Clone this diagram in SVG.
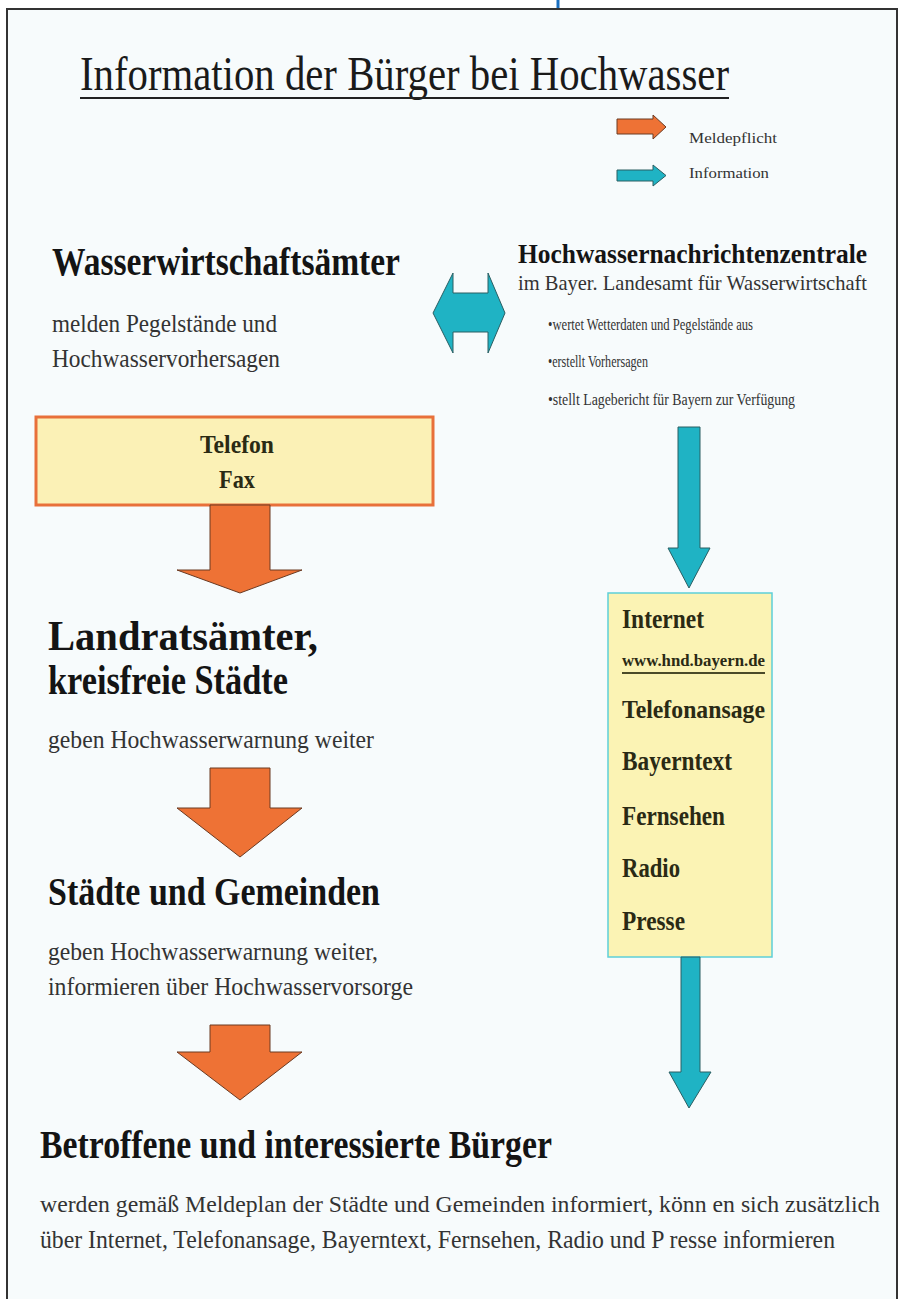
<svg xmlns="http://www.w3.org/2000/svg" width="901" height="1299" viewBox="0 0 901 1299">
<style>
.h{font-family:"Liberation Serif","Times New Roman",serif;font-weight:bold;fill:#141414}
.t{font-family:"Liberation Serif","Times New Roman",serif;fill:#333}
.b{font-family:"Liberation Serif","Times New Roman",serif;font-weight:bold;fill:#2a2a14}
.or{fill:#EE7235;stroke:#6a3a22;stroke-width:1}
.tl{fill:#1FB3C4;stroke:#2a5e62;stroke-width:1}
</style>
<rect x="0" y="0" width="901" height="1299" fill="#ffffff"/>
<line x1="558" y1="0" x2="558" y2="9" stroke="#1a6fc0" stroke-width="3"/>
<rect x="7" y="9" width="890" height="1300" fill="#F7FBFC" stroke="#333" stroke-width="2"/>

<g id="title">
<text class="t" x="80" y="90" font-size="48" textLength="649" lengthAdjust="spacingAndGlyphs" style="fill:#1a1a1a">Information der Bürger bei Hochwasser</text>
<line x1="80" y1="98" x2="729" y2="98" stroke="#222" stroke-width="2"/>
</g>

<g id="legend">
<path class="or" d="M617,119 H653 V115 L666,127 L653,139 V134 H617 Z"/>
<text class="t" x="689" y="143" font-size="15" textLength="88" lengthAdjust="spacingAndGlyphs">Meldepflicht</text>
<path class="tl" d="M617,170 H653 V165 L666,175.5 L653,186 V181 H617 Z"/>
<text class="t" x="689" y="178" font-size="15" textLength="80" lengthAdjust="spacingAndGlyphs">Information</text>
</g>

<g id="wasserwirtschaftsaemter">
<text class="h" x="52" y="275" font-size="40" textLength="348" lengthAdjust="spacingAndGlyphs">Wasserwirtschaftsämter</text>
<text class="t" x="52" y="332" font-size="26" textLength="225" lengthAdjust="spacingAndGlyphs">melden Pegelstände und</text>
<text class="t" x="52" y="367" font-size="26" textLength="228" lengthAdjust="spacingAndGlyphs">Hochwasservorhersagen</text>
</g>

<g id="hnz">
<text class="h" x="518" y="263" font-size="27" textLength="349" lengthAdjust="spacingAndGlyphs">Hochwassernachrichtenzentrale</text>
<text class="t" x="518" y="290" font-size="21" textLength="349" lengthAdjust="spacingAndGlyphs">im Bayer. Landesamt für Wasserwirtschaft</text>
<text class="t" x="548" y="330" font-size="16" textLength="205" lengthAdjust="spacingAndGlyphs">•wertet Wetterdaten und Pegelstände aus</text>
<text class="t" x="548" y="367" font-size="16" textLength="100" lengthAdjust="spacingAndGlyphs">•erstellt Vorhersagen</text>
<text class="t" x="548" y="405" font-size="16" textLength="247" lengthAdjust="spacingAndGlyphs">•stellt Lagebericht für Bayern zur Verfügung</text>
</g>

<g id="telefon">
<rect x="36" y="417" width="397" height="88" fill="#FBF1B6" stroke="#E8703A" stroke-width="3"/>
<text class="b" x="237" y="453" font-size="26" text-anchor="middle" textLength="74" lengthAdjust="spacingAndGlyphs">Telefon</text>
<text class="b" x="237" y="488" font-size="26" text-anchor="middle" textLength="36" lengthAdjust="spacingAndGlyphs">Fax</text>
</g>

<g id="landratsaemter">
<text class="h" x="48" y="650" font-size="42" textLength="270" lengthAdjust="spacingAndGlyphs">Landratsämter,</text>
<text class="h" x="48" y="694" font-size="42" textLength="240" lengthAdjust="spacingAndGlyphs">kreisfreie Städte</text>
<text class="t" x="48" y="748" font-size="26" textLength="326" lengthAdjust="spacingAndGlyphs">geben Hochwasserwarnung weiter</text>
</g>

<g id="staedte">
<text class="h" x="48" y="905" font-size="40" textLength="332" lengthAdjust="spacingAndGlyphs">Städte und Gemeinden</text>
<text class="t" x="48" y="960" font-size="26" textLength="330" lengthAdjust="spacingAndGlyphs">geben Hochwasserwarnung weiter,</text>
<text class="t" x="48" y="995" font-size="26" textLength="365" lengthAdjust="spacingAndGlyphs">informieren über Hochwasservorsorge</text>
</g>

<g id="buerger">
<text class="h" x="40" y="1158" font-size="40" textLength="512" lengthAdjust="spacingAndGlyphs">Betroffene und interessierte Bürger</text>
<text class="t" x="40" y="1212" font-size="24" textLength="840" lengthAdjust="spacingAndGlyphs">werden gemäß Meldeplan der Städte und Gemeinden informiert, könn en sich zusätzlich</text>
<text class="t" x="40" y="1248" font-size="25" textLength="795" lengthAdjust="spacingAndGlyphs">über Internet, Telefonansage, Bayerntext, Fernsehen, Radio und P resse informieren</text>
</g>

<g id="medien">
<rect x="608" y="593" width="164" height="364" fill="#FBF3B4" stroke="#5ECFD8" stroke-width="1.5"/>
<text class="b" x="622" y="628" font-size="27" textLength="82" lengthAdjust="spacingAndGlyphs">Internet</text>
<text class="b" x="622" y="666" font-size="16" textLength="143" lengthAdjust="spacingAndGlyphs">www.hnd.bayern.de</text>
<line x1="622" y1="673" x2="765" y2="673" stroke="#4a4a28" stroke-width="2"/>
<text class="b" x="622" y="718" font-size="25" textLength="143" lengthAdjust="spacingAndGlyphs">Telefonansage</text>
<text class="b" x="622" y="770" font-size="27" textLength="110" lengthAdjust="spacingAndGlyphs">Bayerntext</text>
<text class="b" x="622" y="825" font-size="27" textLength="103" lengthAdjust="spacingAndGlyphs">Fernsehen</text>
<text class="b" x="622" y="877" font-size="27" textLength="58" lengthAdjust="spacingAndGlyphs">Radio</text>
<text class="b" x="622" y="930" font-size="27" textLength="63" lengthAdjust="spacingAndGlyphs">Presse</text>
</g>

<g id="connectors">
<path class="tl" d="M433,313 L453,273 V293 H488 V273 L505,313 L488,353 V332 H453 V353 Z"/>
<path class="or" d="M210,505 H270 V570 H302 L240,593 L177,570 H210 Z"/>
<path class="or" d="M210,768 H270 V808 H302 L240,857 L177,808 H210 Z"/>
<path class="or" d="M210,1025 H270 V1052 H302 L240,1100 L177,1052 H210 Z"/>
<path class="tl" d="M678,427 H700 V548 H710 L689,588 L668,548 H678 Z"/>
<path class="tl" d="M681,957 H700 V1072 H711 L689,1108 L669,1072 H681 Z"/>
</g>
</svg>
